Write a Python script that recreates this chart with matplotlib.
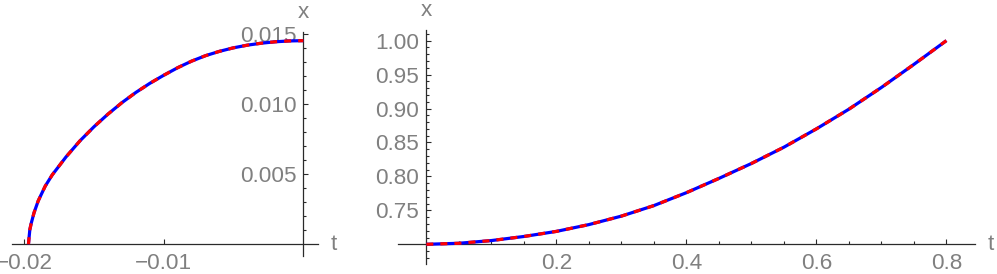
import numpy as np
import matplotlib
matplotlib.use("Agg")
import matplotlib.pyplot as plt
from matplotlib.ticker import MultipleLocator, FixedLocator

plt.rcParams["font.family"] = ["Liberation Sans", "DejaVu Sans"]

# left panel: x(t) for t in [-0.0197, 0]
t_left = [-0.0197, -0.0196, -0.0195, -0.0193, -0.0190, -0.0185, -0.0180, -0.0170,
          -0.0160, -0.0150, -0.0140, -0.0130, -0.0120, -0.0110, -0.0100, -0.0090,
          -0.0080, -0.0070, -0.0060, -0.0050, -0.0040, -0.0030, -0.0020, -0.0010, 0.0]
x_left = [0.0, 0.00105, 0.00150, 0.00225, 0.00310, 0.00415, 0.00495, 0.00625,
          0.00740, 0.00840, 0.00930, 0.01012, 0.01085, 0.01150, 0.01208, 0.01262,
          0.01309, 0.01348, 0.01379, 0.01404, 0.01423, 0.01437, 0.01447, 0.01453, 0.01455]

# right panel: x(t) for t in [0, 0.8]
t_right = [0.0, 0.05, 0.1, 0.15, 0.2, 0.25, 0.3, 0.35, 0.4, 0.45, 0.5, 0.55,
           0.6, 0.65, 0.7, 0.75, 0.8]
x_right = [0.700, 0.7015, 0.7055, 0.7115, 0.7190, 0.7290, 0.7415, 0.7570, 0.7760,
           0.7970, 0.8190, 0.8430, 0.8700, 0.8990, 0.9310, 0.9650, 1.000]

left_xticks = [-0.02, -0.01]
left_xlabels = ["\u22120.02", "\u22120.01"]
left_yticks = [0.005, 0.010, 0.015]
left_ylabels = ["0.005", "0.010", "0.015"]
right_xticks = [0.2, 0.4, 0.6, 0.8]
right_xlabels = ["0.2", "0.4", "0.6", "0.8"]
right_yticks = [0.75, 0.80, 0.85, 0.90, 0.95, 1.00]
right_ylabels = ["0.75", "0.80", "0.85", "0.90", "0.95", "1.00"]

W, H = 997, 274
fig = plt.figure(figsize=(W / 100, H / 100), dpi=100)

GRAY = "#808080"
AXC = "#2a2a2a"
FS = 16.2


def place(px, py):
    # px = (left, right), py = (bottom, top) in image pixels
    return fig.add_axes([px[0] / W, 1 - py[0] / H, (px[1] - px[0]) / W, (py[0] - py[1]) / H])


def style(ax, x0, y0):
    for s in ["top", "right"]:
        ax.spines[s].set_visible(False)
    ax.spines["left"].set_position(("data", x0))
    ax.spines["bottom"].set_position(("data", y0))
    for s in ["left", "bottom"]:
        ax.spines[s].set_color(AXC)
        ax.spines[s].set_linewidth(0.9)
    ax.patch.set_visible(False)
    ax.tick_params(which="both", direction="in", color=AXC, width=0.8,
                   labelcolor=GRAY, labelsize=FS)
    ax.tick_params(which="major", length=3.4)
    ax.tick_params(which="minor", length=2.0)
    ax.tick_params(axis="x", pad=6)
    ax.tick_params(axis="y", pad=5)


def curve(ax, t, x):
    ax.plot(t, x, color="blue", lw=2.3, solid_capstyle="butt",
            solid_joinstyle="round", zorder=3)
    ln, = ax.plot(t, x, color="red", lw=2.3, zorder=4)
    ln.set_dashes([2.2, 2.2])
    ln.set_dash_capstyle("butt")


def axis_names(ax, x0, y0):
    ax.annotate("x", xy=(x0, 1), xycoords=("data", "axes fraction"),
                xytext=(0, 6), textcoords="offset points", ha="center", va="bottom",
                color=GRAY, fontsize=FS)
    ax.annotate("t", xy=(1, y0), xycoords=("axes fraction", "data"),
                xytext=(9, 0), textcoords="offset points", ha="left", va="center",
                color=GRAY, fontsize=FS)


# left panel
ax1 = place((11.7, 318), (256, 31.7))
ax1.set_xlim(-0.0209, 0.00105)
ax1.set_ylim(-0.00084, 0.01519)
style(ax1, 0, 0)
curve(ax1, t_left, x_left)
ax1.set_xticks(left_xticks)
ax1.set_xticklabels(left_xlabels)
ax1.set_yticks(left_yticks)
ax1.set_yticklabels(left_ylabels)
ax1.yaxis.set_minor_locator(FixedLocator([i * 0.001 for i in range(1, 16) if i % 5]))
axis_names(ax1, 0, 0)

# right panel
ax2 = place((397.5, 975), (264.4, 29.5))
ax2.set_xlim(-0.0443, 0.844)
ax2.set_ylim(0.6704, 1.0164)
style(ax2, 0, 0.7)
curve(ax2, t_right, x_right)
ax2.set_xticks(right_xticks)
ax2.set_xticklabels(right_xlabels)
ax2.set_yticks(right_yticks)
ax2.set_yticklabels(right_ylabels)
ax2.xaxis.set_minor_locator(MultipleLocator(0.05))
ax2.yaxis.set_minor_locator(MultipleLocator(0.01))
axis_names(ax2, 0, 0.7)

fig.savefig("out.png", dpi=100)
